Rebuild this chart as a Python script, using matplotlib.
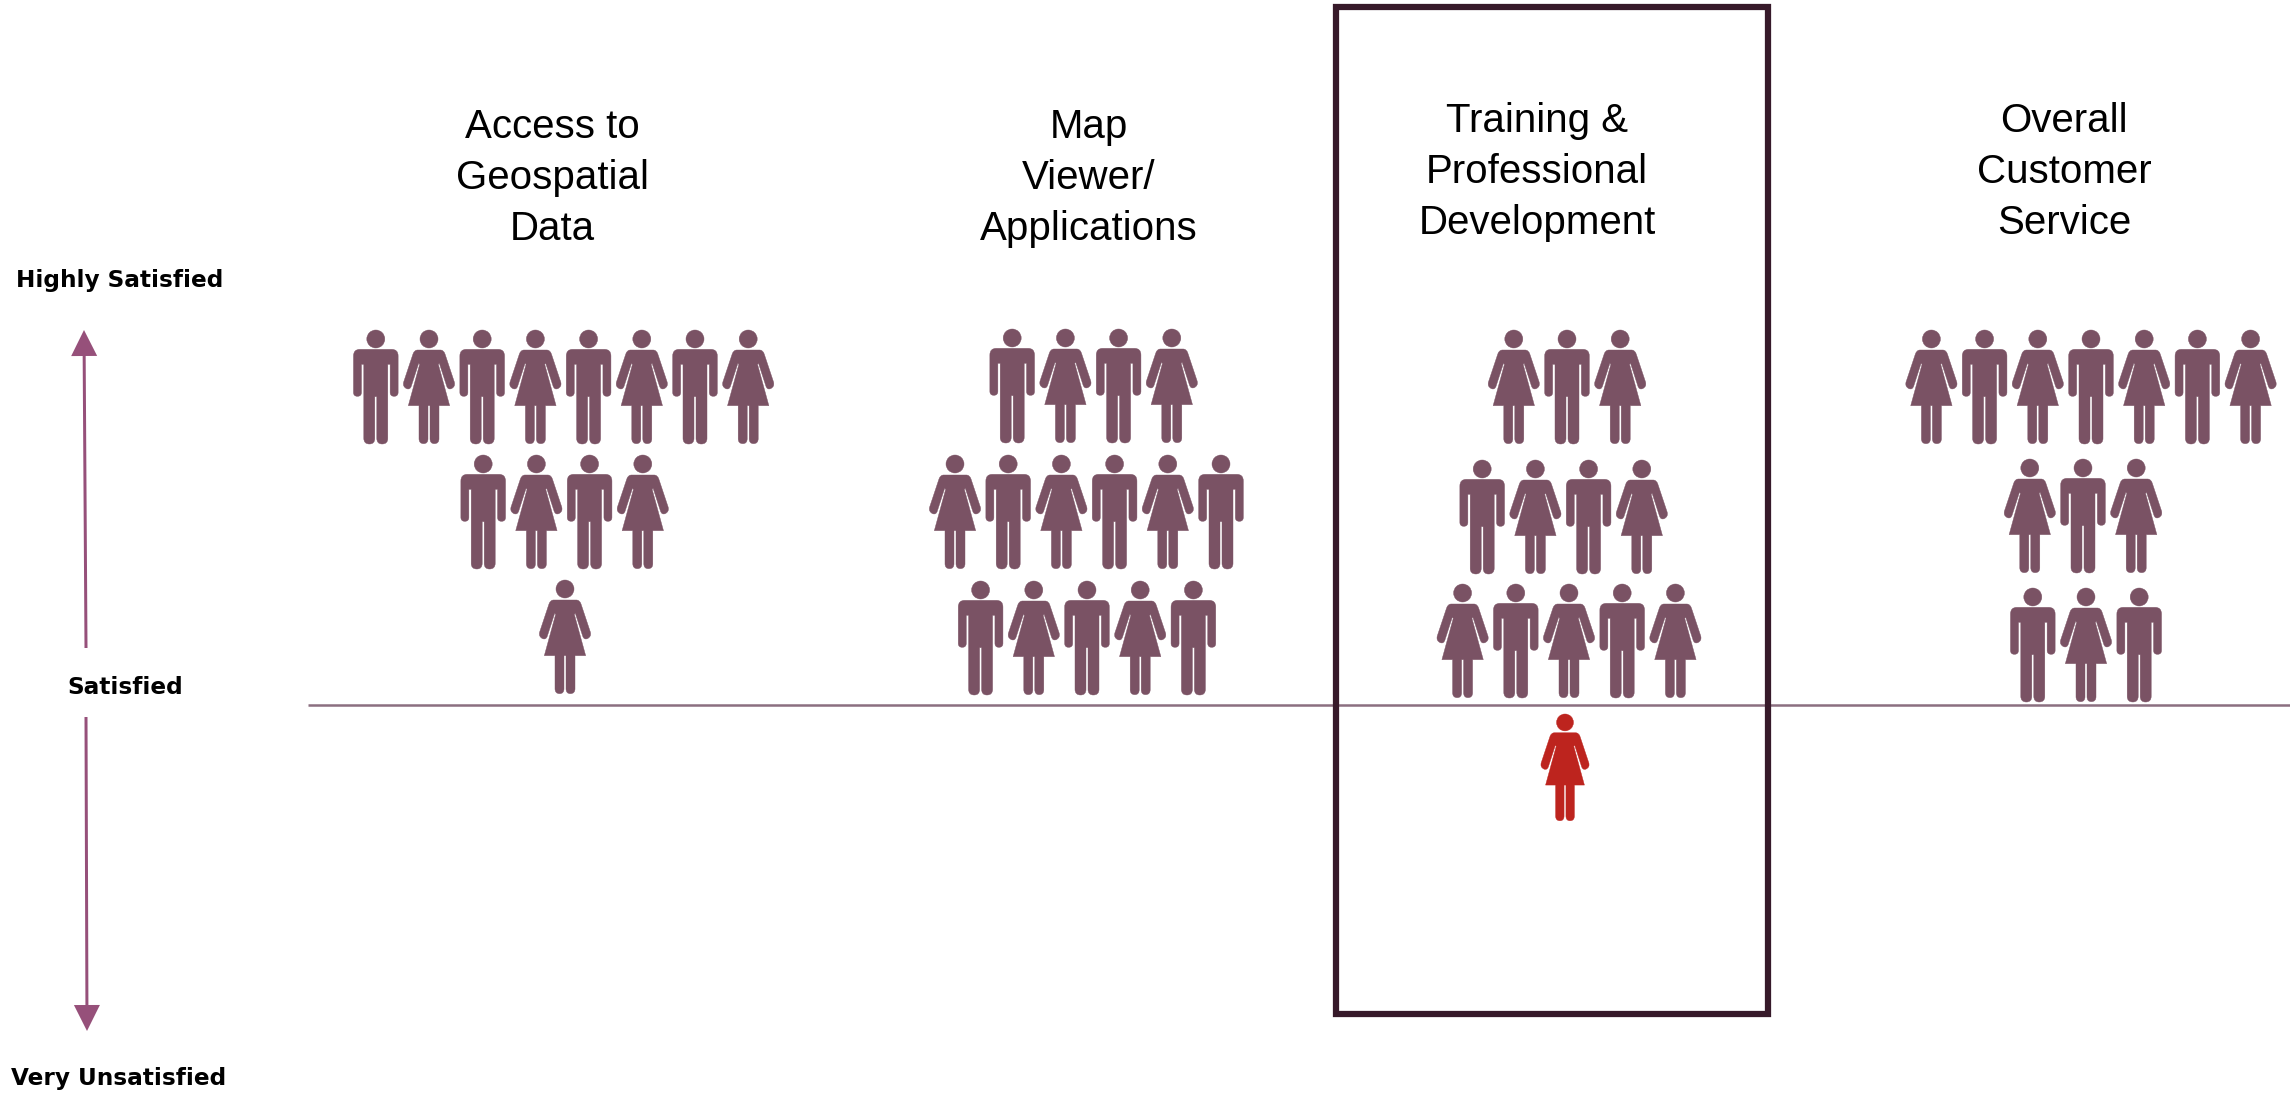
import matplotlib
matplotlib.use('Agg')
import matplotlib.pyplot as plt
from matplotlib.path import Path
from matplotlib.patches import PathPatch, Circle, Rectangle, FancyArrow

categories = ['Access to\nGeospatial\nData', 'Map\nViewer/\nApplications',
              'Training &\nProfessional\nDevelopment', 'Overall\nCustomer\nService']
# one string per row, M = man, F = woman
rows_access = ['MFMFMFMF', 'MFMF', 'F']
rows_map = ['MFMF', 'FMFMFM', 'MFMFM']
rows_training = ['FMF', 'MFMF', 'FMFMF']
rows_service = ['FMFMFMF', 'FMF', 'MFM']
all_rows = [rows_access, rows_map, rows_training, rows_service]
# people below the "Satisfied" line
below_training = 'F'
levels = ['Highly Satisfied', 'Satisfied', 'Very Unsatisfied']

# layout, in pixels of the 2290x1094 picture
title_x = [552, 1089, 1537, 2064]
title_y = [178, 178, 172, 172]
row_centers = [[562, 563, 565], [1092, 1088, 1087], [1567, 1562, 1569], [2091, 2083, 2086]]
row_tops = [[330, 455, 580], [329, 455, 581], [330, 460, 584], [330, 459, 588]]
step = 53.2

PERSON = '#7a5264'
RED = '#bd241e'
BOX = '#371a2a'
LINE = '#8b6f80'
ARROW = '#96507a'


def man_path():
    # outline clockwise from the left shoulder, units are px*3 as measured on a zoom
    v = [(-48, 58), (48, 58), (67, 58), (67, 78), (67, 187), (67, 199), (55, 199), (43, 199), (43, 187),
         (43, 103), (36, 103), (36, 325), (36, 342), (19, 342), (3, 342), (3, 325), (3, 200),
         (-3, 200), (-3, 325), (-3, 342), (-19, 342), (-36, 342), (-36, 325), (-36, 103), (-43, 103),
         (-43, 187), (-43, 199), (-55, 199), (-67, 199), (-67, 187), (-67, 78), (-67, 58), (-48, 58), (-48, 58)]
    c = [Path.MOVETO, Path.LINETO, Path.CURVE3, Path.CURVE3, Path.LINETO, Path.CURVE3, Path.CURVE3,
         Path.CURVE3, Path.CURVE3, Path.LINETO, Path.LINETO, Path.LINETO, Path.CURVE3, Path.CURVE3,
         Path.CURVE3, Path.CURVE3, Path.LINETO, Path.LINETO, Path.LINETO, Path.CURVE3, Path.CURVE3,
         Path.CURVE3, Path.CURVE3, Path.LINETO, Path.LINETO, Path.LINETO, Path.CURVE3, Path.CURVE3,
         Path.CURVE3, Path.CURVE3, Path.LINETO, Path.CURVE3, Path.CURVE3, Path.CLOSEPOLY]
    return v, c


def woman_path():
    v = [(-34, 60), (34, 60), (44, 60), (48, 72), (76, 156), (80, 170), (67, 176), (57, 180), (53, 168),
         (31, 100), (28, 103), (62, 227), (30, 227), (30, 326), (30, 341), (16, 341), (3, 341), (3, 326),
         (3, 227), (-3, 227), (-3, 326), (-3, 341), (-16, 341), (-30, 341), (-30, 326), (-30, 227),
         (-62, 227), (-28, 103), (-31, 100), (-53, 168), (-57, 180), (-67, 176), (-80, 170), (-76, 156),
         (-48, 72), (-44, 60), (-34, 60), (-34, 60)]
    c = [Path.MOVETO, Path.LINETO, Path.CURVE3, Path.CURVE3, Path.LINETO, Path.CURVE3, Path.CURVE3,
         Path.CURVE3, Path.CURVE3, Path.LINETO, Path.LINETO, Path.LINETO, Path.LINETO, Path.LINETO,
         Path.CURVE3, Path.CURVE3, Path.CURVE3, Path.CURVE3, Path.LINETO, Path.LINETO, Path.LINETO,
         Path.CURVE3, Path.CURVE3, Path.CURVE3, Path.CURVE3, Path.LINETO, Path.LINETO, Path.LINETO,
         Path.LINETO, Path.LINETO, Path.CURVE3, Path.CURVE3, Path.CURVE3, Path.CURVE3, Path.LINETO,
         Path.CURVE3, Path.CURVE3, Path.CLOSEPOLY]
    return v, c


def draw_person(ax, kind, cx, top, color=PERSON, scale=1 / 3):
    v, c = man_path() if kind == 'M' else woman_path()
    pts = [(cx + x * scale, top + y * scale) for x, y in v]
    ax.add_patch(PathPatch(Path(pts, c), fc=color, ec=color, lw=0.3))
    ax.add_patch(Circle((cx, top + 27 * scale), 27 * scale, fc=color, ec=color, lw=0.3))


fig = plt.figure(figsize=(22.9, 10.94), dpi=100)
ax = fig.add_axes([0, 0, 1, 1])
ax.set_xlim(0, 2290)
ax.set_ylim(1094, 0)
ax.axis('off')

ax.plot([308, 2290], [705, 705], color=LINE, lw=1.8, solid_capstyle='butt')
ax.add_patch(Rectangle((1336, 7), 432, 1007, fc='none', ec=BOX, lw=4.5, joinstyle='miter', zorder=5))

for name, x, y in zip(categories, title_x, title_y):
    ax.text(x, y, name, ha='center', va='center', fontsize=29, family='Liberation Sans',
            linespacing=1.44, color='black')

for rows, centers, tops in zip(all_rows, row_centers, row_tops):
    for row, cx, top in zip(rows, centers, tops):
        for i, kind in enumerate(row):
            draw_person(ax, kind, cx + (i - (len(row) - 1) / 2) * step, top)

draw_person(ax, below_training, 1565, 714, color=RED, scale=0.313)

for label, x, y in zip(levels, [120, 125, 119], [281, 687, 1078]):
    ax.text(x, y, label, ha='center', va='center', fontsize=16.7, fontweight='bold',
            family='DejaVu Sans', color='black')

ax.add_patch(FancyArrow(86, 648, -2, -318, width=3, head_width=26, head_length=26,
                        length_includes_head=True, fc=ARROW, ec='none'))
ax.add_patch(FancyArrow(86, 717, 1, 314, width=3, head_width=26, head_length=26,
                        length_includes_head=True, fc=ARROW, ec='none'))

fig.savefig('out.png', dpi=100, facecolor='white')
